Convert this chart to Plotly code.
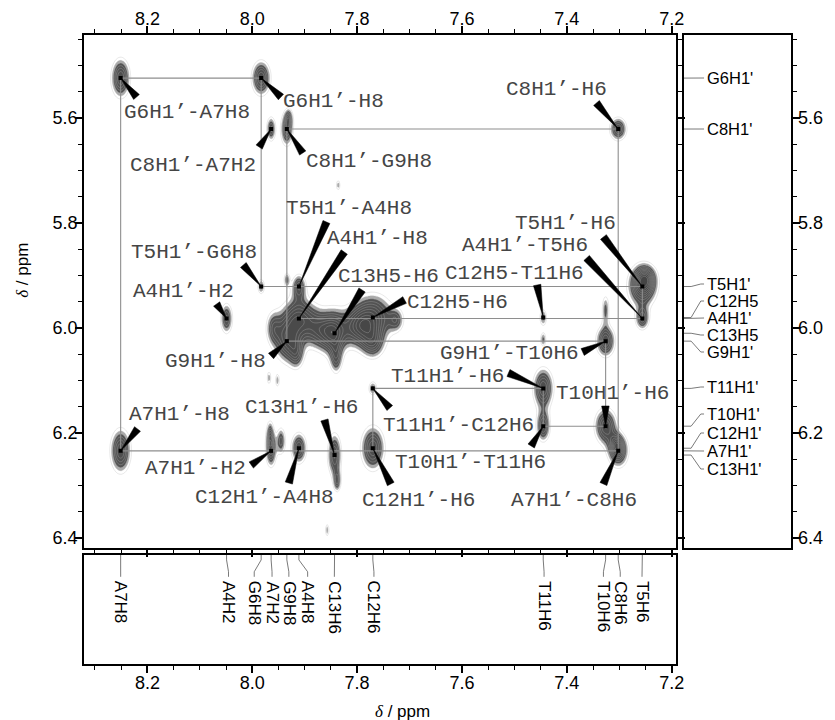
import numpy as np
import plotly.graph_objects as go

# ---------------- data ----------------
# aromatic (F2) shifts, ppm
x_names = ["A7H8", "A4H2", "G6H8", "A7H2", "G9H8", "A4H8", "C13H6", "C12H6",
           "T11H6", "T10H6", "C8H6", "T5H6"]
x_shifts = [8.251, 8.049, 7.983, 7.964, 7.934, 7.911, 7.843, 7.770,
            7.445, 7.326, 7.302, 7.256]

# H1'/H5 (F1) shifts, ppm
y_names = ["G6H1'", "C8H1'", "T5H1'", "C12H5", "A4H1'", "C13H5", "G9H1'",
           "T11H1'", "T10H1'", "C12H1'", "A7H1'", "C13H1'"]
y_shifts = [5.524, 5.621, 5.921, 5.980, 5.982, 6.010, 6.025,
            6.115, 6.187, 6.229, 6.234, 6.242]

# assigned cross peaks: row (F1 proton), column (F2 proton), label
peak_row = ["G6H1'", "G6H1'", "C8H1'", "C8H1'", "C8H1'", "T5H1'", "T5H1'",
            "A4H1'", "A4H1'", "C13H5", "G9H1'", "C12H5", "C12H5", "T5H1'",
            "A4H1'", "G9H1'", "T11H1'", "T11H1'", "T10H1'", "T10H1'",
            "A7H1'", "A7H1'", "A7H1'", "C12H1'", "C13H1'", "C12H1'"]
peak_col = ["A7H8", "G6H8", "A7H2", "G9H8", "C8H6", "G6H8", "A4H8",
            "A4H2", "A4H8", "C13H6", "G9H8", "C12H6", "T11H6", "T5H6",
            "T5H6", "T10H6", "T11H6", "C12H6", "T11H6", "T10H6",
            "C8H6", "A7H8", "A7H2", "A4H8", "C13H6", "C12H6"]
peak_text = ["G6H1’-A7H8", "G6H1’-H8", "C8H1’-A7H2", "C8H1’-G9H8", "C8H1’-H6",
             "T5H1’-G6H8", "T5H1’-A4H8", "A4H1’-H2", "A4H1’-H8", "C13H5-H6",
             "G9H1’-H8", "C12H5-H6", "C12H5-T11H6", "T5H1’-H6", "A4H1’-T5H6",
             "G9H1’-T10H6", "T11H1’-H6", "T11H1’-C12H6", "T10H1’-T11H6",
             "T10H1’-H6", "A7H1’-C8H6", "A7H1’-H8", "A7H1’-H2",
             "C12H1’-A4H8", "C13H1’-H6", "C12H1’-H6"]
peak_amp = [1.0, 1.0, 0.8, 0.9, 0.9, 0.6, 0.8, 0.8, 1.0, 0.9, 0.9, 1.0, 0.6,
            1.1, 0.8, 1.0, 1.0, 0.6, 0.9, 1.0, 1.0, 1.0, 0.8, 0.9, 0.9, 1.0]
peak_wx = [0.012, 0.012, 0.006, 0.008, 0.011, 0.005, 0.009, 0.008, 0.022,
           0.016, 0.016, 0.026, 0.005, 0.018, 0.009, 0.012, 0.013, 0.006,
           0.009, 0.014, 0.013, 0.013, 0.007, 0.010, 0.009, 0.015]
peak_wy = [0.025, 0.022, 0.016, 0.022, 0.015, 0.011, 0.016, 0.020, 0.028,
           0.030, 0.028, 0.030, 0.012, 0.026, 0.015, 0.020, 0.026, 0.010,
           0.020, 0.023, 0.021, 0.028, 0.022, 0.020, 0.028, 0.028]

# unassigned / overlapping spectral intensity
extra_x = [7.934, 7.836, 7.968, 7.952, 7.445, 7.857, 7.838, 7.966, 7.945,
           7.326, 7.960, 7.870, 7.840, 7.800, 7.770, 7.725, 7.915, 7.250,
           7.305, 7.930]
extra_y = [5.908, 5.728, 6.095, 6.100, 6.022, 6.385, 6.292, 6.205, 6.215,
           5.965, 6.000, 6.005, 6.060, 6.000, 6.030, 5.985, 6.050, 5.905,
           6.222, 5.600]
extra_amp = [0.6, 0.5, 0.5, 0.5, 0.6, 0.5, 0.7, 0.7, 0.7,
             0.6, 0.6, 0.8, 0.6, 0.8, 0.7, 0.55, 0.6, 0.7,
             0.5, 0.5]
extra_wx = [0.004, 0.003, 0.003, 0.003, 0.004, 0.003, 0.005, 0.005, 0.006,
            0.005, 0.010, 0.020, 0.008, 0.020, 0.015, 0.010, 0.010, 0.013,
            0.008, 0.005]
extra_wy = [0.010, 0.008, 0.010, 0.010, 0.010, 0.010, 0.014, 0.020, 0.018,
            0.020, 0.022, 0.025, 0.020, 0.025, 0.020, 0.015, 0.020, 0.016,
            0.012, 0.012]

# sequential walk connections: (row, col) -> (row, col)
walk_segments = [
    (("G6H1'", "A7H8"), ("A7H1'", "A7H8")),
    (("G6H1'", "A7H8"), ("G6H1'", "G6H8")),
    (("G6H1'", "G6H8"), ("T5H1'", "G6H8")),
    (("T5H1'", "G6H8"), ("T5H1'", "T5H6")),
    (("T5H1'", "T5H6"), ("A4H1'", "T5H6")),
    (("A4H1'", "A4H8"), ("A4H1'", "T5H6")),
    (("C8H1'", "G9H8"), ("C8H1'", "C8H6")),
    (("C8H1'", "G9H8"), ("G9H1'", "G9H8")),
    (("G9H1'", "G9H8"), ("G9H1'", "T10H6")),
    (("G9H1'", "T10H6"), ("T10H1'", "T10H6")),
    (("T10H1'", "T11H6"), ("T10H1'", "T10H6")),
    (("T11H1'", "T11H6"), ("T10H1'", "T11H6")),
    (("T11H1'", "C12H6"), ("T11H1'", "T11H6")),
    (("T11H1'", "C12H6"), ("C12H1'", "C12H6")),
    (("C8H1'", "C8H6"), ("A7H1'", "C8H6")),
    (("A7H1'", "A7H8"), ("A7H1'", "C8H6")),
]

x_ticks = [8.2, 8.0, 7.8, 7.6, 7.4, 7.2]
y_ticks = [5.6, 5.8, 6.0, 6.2, 6.4]

# ---------------- layout geometry (pixels) ----------------
W, H = 835, 720
PL, PR, PT, PB = 85, 683, 35, 548          # main panel box
RL, RR = 691, 800                          # right panel x extent
BT, BB = 555, 664                          # bottom panel y extent
X0PX, XSC = 255.0, 530.0                   # 8.0 ppm at x=255, px per ppm
Y0PX, YSC = 118.0, 525.0                   # 5.6 ppm at y=118


def xppm(px):
    return 8.0 - (px - X0PX) / XSC


def yppm(py):
    return 5.6 + (py - Y0PX) / YSC


def xpx(v):
    return X0PX + (8.0 - v) * XSC


def ypx(v):
    return Y0PX + (v - 5.6) * YSC


XR = [xppm(PL), xppm(PR)]
YR = [yppm(PB), yppm(PT)]

# label centre (cx, cy) and pointer base (bx, by), pixels
label_pos = [
    (189, 112, 138, 97), (337, 101, 284, 97), (195, 165, 262, 147),
    (373, 161, 306, 153), (563, 89, 603, 103), (196, 252, 246, 265),
    (353, 208, 330, 222), (186, 291, 219, 304), (382, 238, 348, 252),
    (393, 276, 366, 290), (218, 361, 274, 356), (462, 302, 409, 300),
    (520, 273, 543, 285), (572, 223, 610, 237), (531, 245, 593, 258),
    (515, 353, 589, 352), (452, 376, 514, 373), (464, 425, 394, 408),
    (476, 462, 537, 446), (619, 393, 612, 406), (580, 500, 610, 484),
    (181, 414, 139, 429), (198, 468, 254, 465), (267, 497, 292, 483),
    (305, 407, 328, 420), (423, 500, 395, 484),
]
right_label_y = [78, 129, 284, 301, 318, 335, 352, 387, 414, 433, 451, 469]
bottom_label_x = [122, 231, 257, 275, 292, 311, 338, 378, 550, 610, 627, 649]

xs = dict(zip(x_names, x_shifts))
ys = dict(zip(y_names, y_shifts))

fig = go.Figure()

# ---------------- spectrum contours ----------------
gx = np.arange(7.188, 8.325, 0.0028)
gy = np.arange(5.438, 6.422, 0.0028)
XX, YY = np.meshgrid(gx, gy)
Z = np.zeros_like(XX)
px_all = [xs[c] for c in peak_col] + extra_x
py_all = [ys[r] for r in peak_row] + extra_y
amp_all = peak_amp + extra_amp
wx_all = peak_wx + extra_wx
wy_all = peak_wy + extra_wy
for cx, cy, a, sx, sy in zip(px_all, py_all, amp_all, wx_all, wy_all):
    Z += a * np.exp(-((XX - cx) ** 2 / (2 * sx ** 2) + (YY - cy) ** 2 / (2 * sy ** 2)))
Z = np.round(Z, 3)

fig.add_trace(go.Contour(
    x=gx, y=gy, z=Z, zmin=0, zmax=1.5,
    contours=dict(start=0.28, end=1.48, size=0.12, coloring="fill"),
    colorscale=[[0, "rgba(255,255,255,0)"], [0.17, "rgba(255,255,255,0)"],
                [0.1867, "#555555"], [1, "#454545"]],
    line=dict(color="rgba(185,185,185,0.55)", width=0.6),
    showscale=False, hoverinfo="skip", xaxis="x", yaxis="y"))

# ---------------- walk lines ----------------
wlx, wly = [], []
for (r1, c1), (r2, c2) in walk_segments:
    wlx += [xs[c1], xs[c2], None]
    wly += [ys[r1], ys[r2], None]
fig.add_trace(go.Scatter(x=wlx, y=wly, mode="lines",
                         line=dict(color="#8e8e8e", width=1.1),
                         hoverinfo="skip", xaxis="x", yaxis="y"))

# ---------------- pointer wedges ----------------
wx_, wy_ = [], []
HW = 3.8
for r, c, (lcx, lcy, bx, by) in zip(peak_row, peak_col, label_pos):
    tx, ty = xpx(xs[c]), ypx(ys[r])
    dx, dy = bx - tx, by - ty
    L = (dx * dx + dy * dy) ** 0.5
    nx, ny = -dy / L * HW, dx / L * HW
    pts = [(tx, ty), (bx + nx, by + ny), (bx - nx, by - ny), (tx, ty)]
    wx_ += [xppm(p[0]) for p in pts] + [None]
    wy_ += [yppm(p[1]) for p in pts] + [None]
fig.add_trace(go.Scatter(x=wx_, y=wy_, mode="lines", fill="toself",
                         fillcolor="black", line=dict(color="black", width=0.5),
                         hoverinfo="skip", xaxis="x", yaxis="y"))

# peak centre dots
fig.add_trace(go.Scatter(x=[xs[c] for c in peak_col], y=[ys[r] for r in peak_row],
                         mode="markers",
                         marker=dict(symbol="square", size=4, color="black"),
                         hoverinfo="skip", xaxis="x", yaxis="y"))

annotations = []
for txt, (lcx, lcy, bx, by) in zip(peak_text, label_pos):
    annotations.append(dict(x=xppm(lcx), y=yppm(lcy), xref="x", yref="y",
                            text=txt, showarrow=False, xanchor="center",
                            yanchor="middle",
                            font=dict(family="Liberation Mono, Courier New, monospace",
                                      size=21, color="#454545")))

# ---------------- right panel (F1 assignments) ----------------
rlx, rly = [], []
for n, ly in zip(y_names, right_label_y):
    y0 = ys[n]
    y1 = yppm(ly)
    rlx += [0, 0.07, 0.16, 0.19, None]
    rly += [y0, y0, y1, y1, None]
    annotations.append(dict(x=0.2, y=y1, xref="x2", yref="y2", text=n,
                            showarrow=False, xanchor="left", yanchor="middle",
                            font=dict(family="Liberation Sans, Arial", size=16.5,
                                      color="black")))
fig.add_trace(go.Scatter(x=rlx, y=rly, mode="lines",
                         line=dict(color="#7a7a7a", width=1),
                         hoverinfo="skip", xaxis="x2", yaxis="y2"))

# ---------------- bottom panel (F2 assignments) ----------------
blx, bly = [], []
for n, lx in zip(x_names, bottom_label_x):
    x0 = xs[n]
    x1 = xppm(lx)
    blx += [x0, x0, x1, x1, None]
    bly += [1.0, 0.955, 0.846, 0.80, None]
    annotations.append(dict(x=x1, y=0.78, xref="x3", yref="y3", text=n,
                            showarrow=False, xanchor="center", yanchor="top",
                            textangle=90,
                            font=dict(family="Liberation Sans, Arial", size=17,
                                      color="black")))
fig.add_trace(go.Scatter(x=blx, y=bly, mode="lines",
                         line=dict(color="#7a7a7a", width=1),
                         hoverinfo="skip", xaxis="x3", yaxis="y3"))

# axis titles
delta = "<span style='font-family:Liberation Serif, Times New Roman, serif'><i>δ</i></span> / ppm"
annotations.append(dict(x=407 / W, y=1 - 711 / H, xref="paper", yref="paper",
                        text=delta, showarrow=False, xanchor="center", yanchor="middle",
                        font=dict(family="Liberation Sans, Arial", size=17, color="black")))
annotations.append(dict(x=22 / W, y=1 - 270 / H, xref="paper", yref="paper",
                        text=delta, showarrow=False, textangle=-90,
                        xanchor="center", yanchor="middle",
                        font=dict(family="Liberation Sans, Arial", size=17, color="black")))

tickfont = dict(family="Liberation Sans, Arial", size=18, color="black")
minor = dict(ticks="outside", ticklen=4, tickwidth=1, dtick=0.05, tick0=0,
             showgrid=False, tickcolor="black")
common = dict(showgrid=False, zeroline=False, showline=True, linecolor="black",
              linewidth=2)
tk = dict(ticks="outside", ticklen=7, tickwidth=1.5, tickcolor="black",
          ticklabelstandoff=-6)

fig.update_layout(
    width=W, height=H, margin=dict(l=0, r=0, t=0, b=0),
    paper_bgcolor="white", plot_bgcolor="white", showlegend=False,
    annotations=annotations,
    xaxis=dict(domain=[PL / W, PR / W], range=XR, side="top", anchor="y",
               tickvals=x_ticks, ticktext=[f"{v:.1f}" for v in x_ticks],
               mirror="ticks", minor=minor, tickfont=tickfont, **tk, **common),
    yaxis=dict(domain=[1 - PB / H, 1 - PT / H], range=YR, side="left", anchor="x",
               tickvals=y_ticks, ticktext=[f"{v:.1f}" for v in y_ticks],
               mirror="ticks", minor=minor, tickfont=tickfont, **tk, **common),
    xaxis2=dict(domain=[RL / W, RR / W], range=[0, 1], anchor="y2",
                showticklabels=False, ticks="", mirror=True, **common),
    yaxis2=dict(domain=[1 - PB / H, 1 - PT / H], range=YR, side="right", anchor="x2",
                tickvals=y_ticks, ticktext=[f"{v:.1f}" for v in y_ticks],
                mirror=True, minor=minor, tickfont=tickfont, **tk, **common),
    xaxis3=dict(domain=[PL / W, PR / W], range=XR, side="bottom", anchor="y3",
                tickvals=x_ticks, ticktext=[f"{v:.1f}" for v in x_ticks],
                mirror=True, minor=minor, tickfont=tickfont, **tk, **common),
    yaxis3=dict(domain=[1 - BB / H, 1 - BT / H], range=[0, 1], anchor="x3",
                showticklabels=False, ticks="", mirror=True, **common),
)

fig.write_html("out.html")
